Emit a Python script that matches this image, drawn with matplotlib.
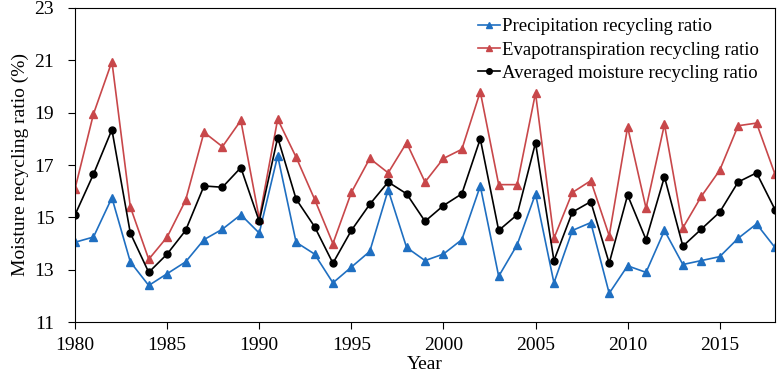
import matplotlib
matplotlib.use("Agg")
import matplotlib.pyplot as plt

years = list(range(1980, 2019))

precip = [14.05, 14.25, 15.75, 13.3, 12.4, 12.85, 13.3, 14.15, 14.55, 15.1,
          14.4, 17.35, 14.05, 13.6, 12.5, 13.1, 13.7, 16.05, 13.85, 13.35,
          13.6, 14.15, 16.2, 12.75, 13.95, 15.9, 12.5, 14.5, 14.8, 12.1,
          13.15, 12.9, 14.5, 13.2, 13.35, 13.5, 14.2, 14.75, 13.85]

evapo = [16.1, 18.95, 20.95, 15.4, 13.4, 14.25, 15.65, 18.25, 17.7, 18.7,
         14.95, 18.75, 17.3, 15.7, 14.0, 15.95, 17.25, 16.7, 17.85, 16.35,
         17.25, 17.6, 19.8, 16.25, 16.25, 19.75, 14.2, 15.95, 16.4, 14.3,
         18.45, 15.35, 18.55, 14.6, 15.8, 16.8, 18.5, 18.6, 16.65]

averaged = [15.1, 16.65, 18.35, 14.4, 12.9, 13.6, 14.5, 16.2, 16.15, 16.9,
            14.85, 18.05, 15.7, 14.65, 13.25, 14.5, 15.5, 16.35, 15.9, 14.85,
            15.45, 15.9, 18.0, 14.5, 15.1, 17.85, 13.35, 15.2, 15.6, 13.25,
            15.85, 14.15, 16.55, 13.9, 14.55, 15.2, 16.35, 16.7, 15.3]

plt.rcParams['font.family'] = ['Liberation Serif', 'DejaVu Serif']

fig = plt.figure(figsize=(7.82, 3.75), dpi=100)
ax = fig.add_axes([0.096, 0.141, 0.895, 0.838])

ax.plot(years, precip, color='#1f6fc1', marker='^', markersize=6, lw=1.2,
        label='Precipitation recycling ratio')
ax.plot(years, evapo, color='#c8474a', marker='^', markersize=6, lw=1.2,
        label='Evapotranspiration recycling ratio')
ax.plot(years, averaged, color='black', marker='o', markersize=5, lw=1.2,
        label='Averaged moisture recycling ratio')

ax.set_xlim(1980, 2018)
ax.set_ylim(11, 23)
ax.set_xticks(range(1980, 2019, 5))
ax.set_yticks(range(11, 24, 2))
ax.tick_params(direction='out', labelsize=14, length=5)
ax.tick_params(axis='y', pad=10)
ax.tick_params(axis='x', pad=6)
ax.set_xlabel('Year', fontsize=14, labelpad=1)
ax.set_ylabel('Moisture recycling ratio (%)', fontsize=14, labelpad=4)

ax.legend(loc='upper right', bbox_to_anchor=(0.982, 0.979), frameon=False,
          fontsize=13.5, handlelength=1.15, handletextpad=0.1,
          labelspacing=0.33, borderaxespad=0, borderpad=0.2, markerscale=0.8)

fig.savefig('out.png', dpi=100)
